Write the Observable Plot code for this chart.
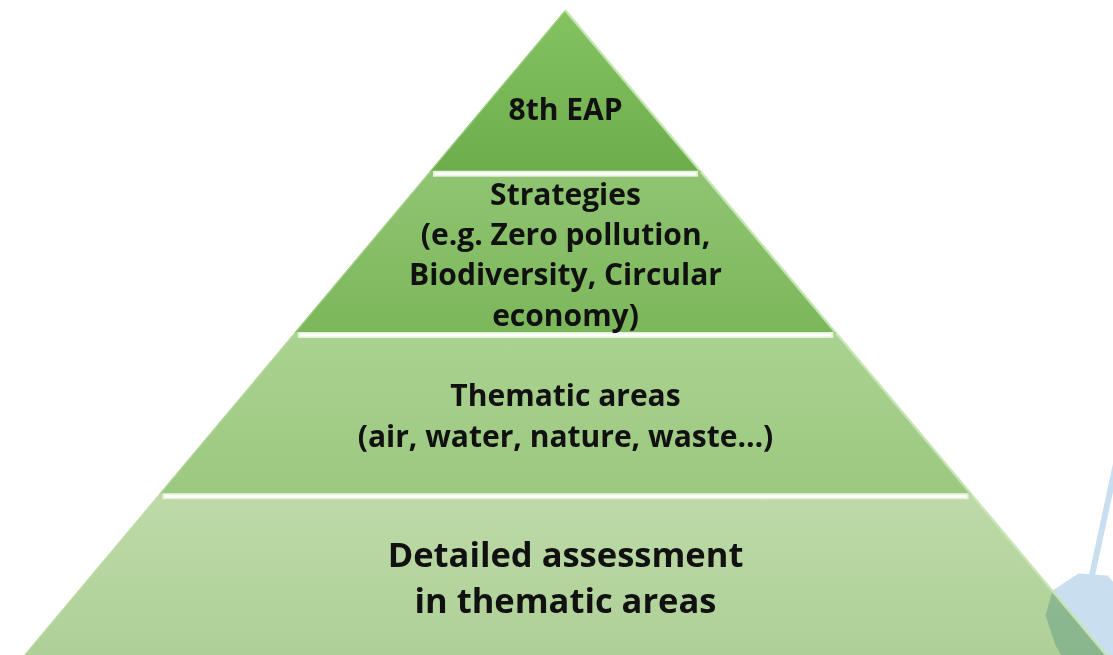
<!DOCTYPE html>
<html>
<head>
<meta charset="utf-8">
<script src="https://cdn.jsdelivr.net/npm/d3@7"></script>
<script src="https://cdn.jsdelivr.net/npm/@observablehq/plot@0.6"></script>
<style>
  html, body { margin: 0; padding: 0; background: #ffffff; }
  #chart svg { display: block; }
</style>
</head>
<body>
<div id="chart"></div>
<script>
// Pyramid levels, top to bottom
const levels = ["8th EAP", "Strategies", "Thematic areas", "Detailed assessment"];
const labels = [
  "8th EAP",
  "Strategies\n(e.g. Zero pollution,\nBiodiversity, Circular\neconomy)",
  "Thematic areas\n(air, water, nature, waste…)",
  "Detailed assessment\nin thematic areas"
];
const topColors = ["#84c262", "#90c472", "#aad290", "#bddaa8"];
const bottomColors = ["#6ead4c", "#7cb75b", "#9cc880", "#aed096"];

// Decorative light-blue shape at the lower right (in level units)
const decorHexX = [3.549, 3.601, 3.793, 4.007, 4.178, 4.140, 3.734, 3.623];
const decorHexY = [3.752, 3.597, 3.491, 3.504, 3.659, 3.969, 4.093, 3.938];
const decorStickX = [3.896, 4.107];
const decorStickY = [3.491, 2.667];

const n = levels.length;
const marks = [];

const hex = decorHexX.map((x, i) => ({x, y: decorHexY[i]}));
marks.push(Plot.line(hex.concat([hex[0]]), {x: "x", y: "y", fill: "#c9dfef", stroke: "none"}));
marks.push(Plot.line(decorStickX.map((x, i) => ({x, y: decorStickY[i]})), {x: "x", y: "y", stroke: "#c9dfef", strokeWidth: 6}));

levels.forEach((name, i) => {
  const pts = [
    {y: i, x1: -i, x2: i},
    {y: i + 1, x1: -(i + 1), x2: i + 1}
  ];
  marks.push(Plot.areaX(pts, {y: "y", x1: "x1", x2: "x2", fill: `url(#grad${i})`, mixBlendMode: "multiply"}));
  marks.push(Plot.link([pts], {x1: d => d[0].x2, y1: d => d[0].y, x2: d => d[1].x2, y2: d => d[1].y, stroke: "#c6e6b2", strokeWidth: 2.5, strokeOpacity: 0.9}));
  marks.push(Plot.link([pts], {x1: d => d[0].x1, y1: d => d[0].y, x2: d => d[1].x1, y2: d => d[1].y, stroke: "#c6e6b2", strokeWidth: 1, strokeOpacity: 0.6}));
});

// White separators at the top of lower layers
const seps = d3.range(1, n).map(i => ({i}));
marks.push(Plot.link(seps, {x1: d => -d.i + 0.02, x2: d => d.i - 0.02, y1: d => d.i + 0.012, y2: d => d.i + 0.012, stroke: "#e4f3d8", strokeWidth: 6}));
marks.push(Plot.link(seps, {x1: d => -d.i + 0.035, x2: d => d.i - 0.035, y1: d => d.i + 0.012, y2: d => d.i + 0.012, stroke: "#ffffff", strokeWidth: 3}));

// Labels
const labelData = labels.map((t, i) => ({
  text: t,
  x: 0,
  y: i === 0 ? i + 0.6 : i + 0.5,
  size: i === n - 1 ? 34.5 : 30
}));
marks.push(Plot.text(labelData, {
  x: "x", y: "y", text: "text",
  fontSize: d => d.size,
  fontWeight: "bold",
  fill: "#111111",
  lineHeight: 1.34,
  textAnchor: "middle",
  fontFamily: "'Open Sans', sans-serif"
}));

const chart = Plot.plot({
  width: 1113,
  height: 655,
  margin: 0,
  x: {domain: [-4, 4], range: [24, 1106], axis: null},
  y: {domain: [0, 4], range: [10, 655], axis: null},
  style: {background: "#ffffff", overflow: "hidden"},
  marks
});

const svg = d3.select(chart);
const defs = svg.insert("defs", ":first-child");
topColors.forEach((c, i) => {
  const g = defs.append("linearGradient").attr("id", `grad${i}`).attr("x1", 0).attr("y1", 0).attr("x2", 0).attr("y2", 1);
  g.append("stop").attr("offset", "0%").attr("stop-color", c);
  g.append("stop").attr("offset", "100%").attr("stop-color", bottomColors[i]);
});
document.getElementById("chart").appendChild(chart);
</script>
</body>
</html>
